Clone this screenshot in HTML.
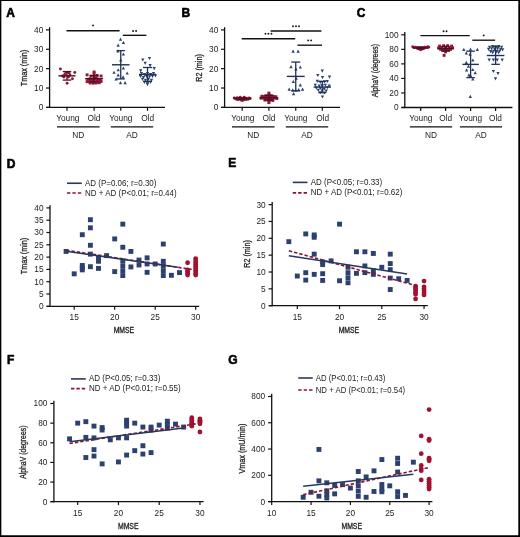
<!DOCTYPE html>
<html><head><meta charset="utf-8"><title>Figure</title>
<style>
html,body{margin:0;padding:0;background:#fff;}
body{width:520px;height:537px;overflow:hidden;}
svg{display:block;font-family:"Liberation Sans",sans-serif;fill:#1c1c1c;}
</style></head><body>
<svg width="520" height="537" viewBox="0 0 520 537">
<rect x="0" y="0" width="520" height="537" fill="#fff"/>
<g>
<line x1="49.6" y1="27.2" x2="49.6" y2="108" stroke="#111" stroke-width="1.3" />
<line x1="46" y1="107.4" x2="49.6" y2="107.4" stroke="#111" stroke-width="1.2" />
<line x1="46" y1="88.03" x2="49.6" y2="88.03" stroke="#111" stroke-width="1.2" />
<line x1="46" y1="68.65" x2="49.6" y2="68.65" stroke="#111" stroke-width="1.2" />
<line x1="46" y1="49.28" x2="49.6" y2="49.28" stroke="#111" stroke-width="1.2" />
<line x1="46" y1="29.9" x2="49.6" y2="29.9" stroke="#111" stroke-width="1.2" />
<line x1="46.3" y1="107.4" x2="165" y2="107.4" stroke="#111" stroke-width="1.3" />
<line x1="67" y1="107.4" x2="67" y2="110.8" stroke="#111" stroke-width="1.2" />
<line x1="94.1" y1="107.4" x2="94.1" y2="110.8" stroke="#111" stroke-width="1.2" />
<line x1="120.75" y1="107.4" x2="120.75" y2="110.8" stroke="#111" stroke-width="1.2" />
<line x1="147.5" y1="107.4" x2="147.5" y2="110.8" stroke="#111" stroke-width="1.2" />
<line x1="57" y1="126.9" x2="99.6" y2="126.9" stroke="#111" stroke-width="1.2" />
<line x1="110.8" y1="126.9" x2="153.2" y2="126.9" stroke="#111" stroke-width="1.2" />
<circle cx="60.4" cy="69.04" r="1.45" fill="#931634"/>
<circle cx="64.7" cy="74.46" r="1.45" fill="#931634"/>
<circle cx="67.1" cy="83.18" r="1.45" fill="#931634"/>
<circle cx="74.8" cy="72.53" r="1.45" fill="#931634"/>
<circle cx="72.4" cy="78.73" r="1.45" fill="#931634"/>
<circle cx="66" cy="72.53" r="1.45" fill="#931634"/>
<circle cx="69" cy="72.91" r="1.45" fill="#931634"/>
<circle cx="64" cy="76.98" r="1.45" fill="#931634"/>
<circle cx="68.5" cy="76.98" r="1.45" fill="#931634"/>
<circle cx="70" cy="75.04" r="1.45" fill="#931634"/>
<circle cx="62.5" cy="76.01" r="1.45" fill="#931634"/>
<line x1="58.5" y1="75.82" x2="75.5" y2="75.82" stroke="#4a1024" stroke-width="1.4" />
<line x1="67" y1="71.56" x2="67" y2="80.08" stroke="#4a1024" stroke-width="1.3" />
<line x1="62.75" y1="71.56" x2="71.25" y2="71.56" stroke="#4a1024" stroke-width="1.3" />
<line x1="62.75" y1="80.08" x2="71.25" y2="80.08" stroke="#4a1024" stroke-width="1.3" />
<rect x="92.65" y="70.49" width="2.9" height="2.9" fill="#931634"/>
<rect x="92.65" y="72.24" width="2.9" height="2.9" fill="#931634"/>
<rect x="85.65" y="73.4" width="2.9" height="2.9" fill="#931634"/>
<rect x="89.65" y="74.56" width="2.9" height="2.9" fill="#931634"/>
<rect x="95.65" y="73.98" width="2.9" height="2.9" fill="#931634"/>
<rect x="99.65" y="74.56" width="2.9" height="2.9" fill="#931634"/>
<rect x="86.65" y="77.86" width="2.9" height="2.9" fill="#931634"/>
<rect x="88.65" y="77.28" width="2.9" height="2.9" fill="#931634"/>
<rect x="90.65" y="78.83" width="2.9" height="2.9" fill="#931634"/>
<rect x="92.65" y="77.66" width="2.9" height="2.9" fill="#931634"/>
<rect x="94.65" y="76.89" width="2.9" height="2.9" fill="#931634"/>
<rect x="96.65" y="77.66" width="2.9" height="2.9" fill="#931634"/>
<rect x="98.65" y="78.24" width="2.9" height="2.9" fill="#931634"/>
<rect x="85.65" y="80.18" width="2.9" height="2.9" fill="#931634"/>
<rect x="87.65" y="80.18" width="2.9" height="2.9" fill="#931634"/>
<rect x="89.65" y="79.99" width="2.9" height="2.9" fill="#931634"/>
<rect x="91.65" y="80.57" width="2.9" height="2.9" fill="#931634"/>
<rect x="93.65" y="80.38" width="2.9" height="2.9" fill="#931634"/>
<rect x="95.65" y="79.79" width="2.9" height="2.9" fill="#931634"/>
<rect x="97.65" y="80.38" width="2.9" height="2.9" fill="#931634"/>
<rect x="99.65" y="79.99" width="2.9" height="2.9" fill="#931634"/>
<rect x="88.65" y="81.54" width="2.9" height="2.9" fill="#931634"/>
<rect x="91.65" y="81.73" width="2.9" height="2.9" fill="#931634"/>
<rect x="94.65" y="81.54" width="2.9" height="2.9" fill="#931634"/>
<rect x="97.65" y="81.34" width="2.9" height="2.9" fill="#931634"/>
<rect x="92.65" y="75.92" width="2.9" height="2.9" fill="#931634"/>
<line x1="85.1" y1="78.73" x2="103.1" y2="78.73" stroke="#4a1024" stroke-width="1.4" />
<line x1="94.1" y1="75.62" x2="94.1" y2="81.83" stroke="#4a1024" stroke-width="1.3" />
<line x1="89.6" y1="75.62" x2="98.6" y2="75.62" stroke="#4a1024" stroke-width="1.3" />
<line x1="89.6" y1="81.83" x2="98.6" y2="81.83" stroke="#4a1024" stroke-width="1.3" />
<polygon points="120.5,37.52 118.85,40.69 122.15,40.69" fill="#2c416f"/>
<polygon points="123.4,40.81 121.75,43.98 125.05,43.98" fill="#2c416f"/>
<polygon points="118.2,43.52 116.55,46.69 119.85,46.69" fill="#2c416f"/>
<polygon points="117.9,49.33 116.25,52.5 119.55,52.5" fill="#2c416f"/>
<polygon points="123.4,52.43 121.75,55.6 125.05,55.6" fill="#2c416f"/>
<polygon points="120.75,58.25 119.1,61.42 122.4,61.42" fill="#2c416f"/>
<polygon points="123.4,66.38 121.75,69.55 125.05,69.55" fill="#2c416f"/>
<polygon points="118.2,68.13 116.55,71.3 119.85,71.3" fill="#2c416f"/>
<polygon points="114,70.65 112.35,73.82 115.65,73.82" fill="#2c416f"/>
<polygon points="127.2,71.42 125.55,74.59 128.85,74.59" fill="#2c416f"/>
<polygon points="118.2,73.36 116.55,76.53 119.85,76.53" fill="#2c416f"/>
<polygon points="116.1,77.43 114.45,80.6 117.75,80.6" fill="#2c416f"/>
<polygon points="123.1,75.3 121.45,78.47 124.75,78.47" fill="#2c416f"/>
<polygon points="120.5,81.11 118.85,84.28 122.15,84.28" fill="#2c416f"/>
<polygon points="125.1,81.11 123.45,84.28 126.75,84.28" fill="#2c416f"/>
<line x1="111.95" y1="64.78" x2="129.55" y2="64.78" stroke="#1f3158" stroke-width="1.4" />
<line x1="120.75" y1="50.63" x2="120.75" y2="78.92" stroke="#1f3158" stroke-width="1.3" />
<line x1="116.65" y1="50.63" x2="124.85" y2="50.63" stroke="#1f3158" stroke-width="1.3" />
<line x1="116.65" y1="78.92" x2="124.85" y2="78.92" stroke="#1f3158" stroke-width="1.3" />
<polygon points="142.8,61.62 141.15,58.45 144.45,58.45" fill="#2c416f"/>
<polygon points="149.5,60.07 147.85,56.9 151.15,56.9" fill="#2c416f"/>
<polygon points="145.2,64.91 143.55,61.74 146.85,61.74" fill="#2c416f"/>
<polygon points="150.1,67.24 148.45,64.07 151.75,64.07" fill="#2c416f"/>
<polygon points="154.2,70.14 152.55,66.97 155.85,66.97" fill="#2c416f"/>
<polygon points="140.7,72.47 139.05,69.3 142.35,69.3" fill="#2c416f"/>
<polygon points="141.5,75.18 139.85,72.01 143.15,72.01" fill="#2c416f"/>
<polygon points="144.5,76.15 142.85,72.98 146.15,72.98" fill="#2c416f"/>
<polygon points="147.5,75.18 145.85,72.01 149.15,72.01" fill="#2c416f"/>
<polygon points="150.5,76.15 148.85,72.98 152.15,72.98" fill="#2c416f"/>
<polygon points="153.5,75.18 151.85,72.01 155.15,72.01" fill="#2c416f"/>
<polygon points="140.5,78.09 138.85,74.92 142.15,74.92" fill="#2c416f"/>
<polygon points="143.5,79.05 141.85,75.88 145.15,75.88" fill="#2c416f"/>
<polygon points="146.5,78.09 144.85,74.92 148.15,74.92" fill="#2c416f"/>
<polygon points="149.5,78.47 147.85,75.3 151.15,75.3" fill="#2c416f"/>
<polygon points="152.5,78.09 150.85,74.92 154.15,74.92" fill="#2c416f"/>
<polygon points="155.5,77.5 153.85,74.33 157.15,74.33" fill="#2c416f"/>
<polygon points="142.5,80.99 140.85,77.82 144.15,77.82" fill="#2c416f"/>
<polygon points="145.5,81.96 143.85,78.79 147.15,78.79" fill="#2c416f"/>
<polygon points="148.5,80.99 146.85,77.82 150.15,77.82" fill="#2c416f"/>
<polygon points="151.5,81.96 149.85,78.79 153.15,78.79" fill="#2c416f"/>
<polygon points="144.5,83.9 142.85,80.73 146.15,80.73" fill="#2c416f"/>
<polygon points="147.5,84.87 145.85,81.7 149.15,81.7" fill="#2c416f"/>
<polygon points="150.5,83.9 148.85,80.73 152.15,80.73" fill="#2c416f"/>
<polygon points="147.5,86.22 145.85,83.05 149.15,83.05" fill="#2c416f"/>
<line x1="139" y1="74.46" x2="156" y2="74.46" stroke="#1f3158" stroke-width="1.4" />
<line x1="147.5" y1="67.49" x2="147.5" y2="81.44" stroke="#1f3158" stroke-width="1.3" />
<line x1="143" y1="67.49" x2="152" y2="67.49" stroke="#1f3158" stroke-width="1.3" />
<line x1="143" y1="81.44" x2="152" y2="81.44" stroke="#1f3158" stroke-width="1.3" />
<line x1="66.5" y1="30.7" x2="119.6" y2="30.7" stroke="#111" stroke-width="1.35" />
<circle cx="93.05" cy="25.4" r="0.95" fill="#151515"/>
<line x1="122.8" y1="35.3" x2="146.4" y2="35.3" stroke="#111" stroke-width="1.35" />
<circle cx="133.1" cy="31" r="0.95" fill="#151515"/>
<circle cx="136.1" cy="31" r="0.95" fill="#151515"/>
<line x1="224.6" y1="27.2" x2="224.6" y2="108" stroke="#111" stroke-width="1.3" />
<line x1="221" y1="107.4" x2="224.6" y2="107.4" stroke="#111" stroke-width="1.2" />
<line x1="221" y1="88.03" x2="224.6" y2="88.03" stroke="#111" stroke-width="1.2" />
<line x1="221" y1="68.65" x2="224.6" y2="68.65" stroke="#111" stroke-width="1.2" />
<line x1="221" y1="49.28" x2="224.6" y2="49.28" stroke="#111" stroke-width="1.2" />
<line x1="221" y1="29.9" x2="224.6" y2="29.9" stroke="#111" stroke-width="1.2" />
<line x1="221.3" y1="107.4" x2="340" y2="107.4" stroke="#111" stroke-width="1.3" />
<line x1="242.2" y1="107.4" x2="242.2" y2="110.8" stroke="#111" stroke-width="1.2" />
<line x1="268.9" y1="107.4" x2="268.9" y2="110.8" stroke="#111" stroke-width="1.2" />
<line x1="295.75" y1="107.4" x2="295.75" y2="110.8" stroke="#111" stroke-width="1.2" />
<line x1="322.3" y1="107.4" x2="322.3" y2="110.8" stroke="#111" stroke-width="1.2" />
<line x1="232" y1="126.9" x2="274.6" y2="126.9" stroke="#111" stroke-width="1.2" />
<line x1="285.8" y1="126.9" x2="328.2" y2="126.9" stroke="#111" stroke-width="1.2" />
<circle cx="234.2" cy="97.91" r="1.45" fill="#931634"/>
<circle cx="235.7" cy="98.49" r="1.45" fill="#931634"/>
<circle cx="237.2" cy="97.71" r="1.45" fill="#931634"/>
<circle cx="238.7" cy="98.68" r="1.45" fill="#931634"/>
<circle cx="240.2" cy="97.91" r="1.45" fill="#931634"/>
<circle cx="241.7" cy="99.07" r="1.45" fill="#931634"/>
<circle cx="243.2" cy="98.29" r="1.45" fill="#931634"/>
<circle cx="244.7" cy="98.88" r="1.45" fill="#931634"/>
<circle cx="246.2" cy="98.1" r="1.45" fill="#931634"/>
<circle cx="247.7" cy="98.68" r="1.45" fill="#931634"/>
<circle cx="249.2" cy="97.91" r="1.45" fill="#931634"/>
<circle cx="250.2" cy="98.49" r="1.45" fill="#931634"/>
<circle cx="238.2" cy="99.65" r="1.45" fill="#931634"/>
<circle cx="240.7" cy="100.04" r="1.45" fill="#931634"/>
<circle cx="242.2" cy="100.43" r="1.45" fill="#931634"/>
<circle cx="243.7" cy="100.04" r="1.45" fill="#931634"/>
<circle cx="246.2" cy="99.65" r="1.45" fill="#931634"/>
<circle cx="240.2" cy="97.13" r="1.45" fill="#931634"/>
<circle cx="244.2" cy="97.13" r="1.45" fill="#931634"/>
<circle cx="236.2" cy="99.26" r="1.45" fill="#931634"/>
<circle cx="248.2" cy="99.26" r="1.45" fill="#931634"/>
<line x1="233.7" y1="98.49" x2="250.7" y2="98.49" stroke="#4a1024" stroke-width="1.4" />
<line x1="242.2" y1="97.91" x2="242.2" y2="99.07" stroke="#4a1024" stroke-width="1.3" />
<line x1="237.95" y1="97.91" x2="246.45" y2="97.91" stroke="#4a1024" stroke-width="1.3" />
<line x1="237.95" y1="99.07" x2="246.45" y2="99.07" stroke="#4a1024" stroke-width="1.3" />
<rect x="267.45" y="91.61" width="2.9" height="2.9" fill="#931634"/>
<rect x="267.45" y="93.16" width="2.9" height="2.9" fill="#931634"/>
<rect x="260.45" y="94.71" width="2.9" height="2.9" fill="#931634"/>
<rect x="262.45" y="95.1" width="2.9" height="2.9" fill="#931634"/>
<rect x="264.45" y="94.33" width="2.9" height="2.9" fill="#931634"/>
<rect x="266.45" y="94.91" width="2.9" height="2.9" fill="#931634"/>
<rect x="268.45" y="94.33" width="2.9" height="2.9" fill="#931634"/>
<rect x="270.45" y="94.52" width="2.9" height="2.9" fill="#931634"/>
<rect x="272.45" y="95.1" width="2.9" height="2.9" fill="#931634"/>
<rect x="274.45" y="95.29" width="2.9" height="2.9" fill="#931634"/>
<rect x="259.45" y="96.65" width="2.9" height="2.9" fill="#931634"/>
<rect x="261.45" y="96.65" width="2.9" height="2.9" fill="#931634"/>
<rect x="263.45" y="96.26" width="2.9" height="2.9" fill="#931634"/>
<rect x="265.45" y="96.26" width="2.9" height="2.9" fill="#931634"/>
<rect x="267.45" y="96.46" width="2.9" height="2.9" fill="#931634"/>
<rect x="269.45" y="97.04" width="2.9" height="2.9" fill="#931634"/>
<rect x="271.45" y="96.65" width="2.9" height="2.9" fill="#931634"/>
<rect x="273.45" y="96.46" width="2.9" height="2.9" fill="#931634"/>
<rect x="275.45" y="97.04" width="2.9" height="2.9" fill="#931634"/>
<rect x="263.45" y="98.59" width="2.9" height="2.9" fill="#931634"/>
<rect x="265.45" y="98.2" width="2.9" height="2.9" fill="#931634"/>
<rect x="267.45" y="98.2" width="2.9" height="2.9" fill="#931634"/>
<rect x="269.45" y="98.39" width="2.9" height="2.9" fill="#931634"/>
<rect x="271.45" y="98.98" width="2.9" height="2.9" fill="#931634"/>
<rect x="267.45" y="99.75" width="2.9" height="2.9" fill="#931634"/>
<rect x="267.45" y="101.11" width="2.9" height="2.9" fill="#931634"/>
<line x1="259.9" y1="97.71" x2="277.9" y2="97.71" stroke="#4a1024" stroke-width="1.4" />
<line x1="268.9" y1="95.39" x2="268.9" y2="100.04" stroke="#4a1024" stroke-width="1.3" />
<line x1="264.4" y1="95.39" x2="273.4" y2="95.39" stroke="#4a1024" stroke-width="1.3" />
<line x1="264.4" y1="100.04" x2="273.4" y2="100.04" stroke="#4a1024" stroke-width="1.3" />
<polygon points="293.1,49.53 291.45,52.7 294.75,52.7" fill="#2c416f"/>
<polygon points="298.1,49.53 296.45,52.7 299.75,52.7" fill="#2c416f"/>
<polygon points="291,65.03 289.35,68.2 292.65,68.2" fill="#2c416f"/>
<polygon points="300.3,65.41 298.65,68.58 301.95,68.58" fill="#2c416f"/>
<polygon points="295.9,67.35 294.25,70.52 297.55,70.52" fill="#2c416f"/>
<polygon points="296.2,76.65 294.55,79.82 297.85,79.82" fill="#2c416f"/>
<polygon points="293.3,79.95 291.65,83.12 294.95,83.12" fill="#2c416f"/>
<polygon points="300.3,83.24 298.65,86.41 301.95,86.41" fill="#2c416f"/>
<polygon points="302.6,87.5 300.95,90.67 304.25,90.67" fill="#2c416f"/>
<polygon points="289.2,87.5 287.55,90.67 290.85,90.67" fill="#2c416f"/>
<polygon points="292.75,88.28 291.1,91.45 294.4,91.45" fill="#2c416f"/>
<polygon points="295.75,88.67 294.1,91.84 297.4,91.84" fill="#2c416f"/>
<polygon points="298.75,88.08 297.1,91.25 300.4,91.25" fill="#2c416f"/>
<polygon points="293.6,91.96 291.95,95.13 295.25,95.13" fill="#2c416f"/>
<line x1="286.8" y1="76.4" x2="304.7" y2="76.4" stroke="#1f3158" stroke-width="1.4" />
<line x1="295.75" y1="62.06" x2="295.75" y2="90.74" stroke="#1f3158" stroke-width="1.3" />
<line x1="291.3" y1="62.06" x2="300.2" y2="62.06" stroke="#1f3158" stroke-width="1.3" />
<line x1="291.3" y1="90.74" x2="300.2" y2="90.74" stroke="#1f3158" stroke-width="1.3" />
<polygon points="322.3,72.66 320.65,69.49 323.95,69.49" fill="#2c416f"/>
<polygon points="317.8,77.12 316.15,73.95 319.45,73.95" fill="#2c416f"/>
<polygon points="322.5,79.05 320.85,75.88 324.15,75.88" fill="#2c416f"/>
<polygon points="329.5,78.67 327.85,75.5 331.15,75.5" fill="#2c416f"/>
<polygon points="317.3,82.93 315.65,79.76 318.95,79.76" fill="#2c416f"/>
<polygon points="320.3,83.9 318.65,80.73 321.95,80.73" fill="#2c416f"/>
<polygon points="324.3,83.51 322.65,80.34 325.95,80.34" fill="#2c416f"/>
<polygon points="327.3,83.12 325.65,79.95 328.95,79.95" fill="#2c416f"/>
<polygon points="315.3,86.8 313.65,83.63 316.95,83.63" fill="#2c416f"/>
<polygon points="319.3,87.77 317.65,84.6 320.95,84.6" fill="#2c416f"/>
<polygon points="322.3,87.39 320.65,84.22 323.95,84.22" fill="#2c416f"/>
<polygon points="325.3,86.8 323.65,83.63 326.95,83.63" fill="#2c416f"/>
<polygon points="329.3,87.77 327.65,84.6 330.95,84.6" fill="#2c416f"/>
<polygon points="316.3,89.71 314.65,86.54 317.95,86.54" fill="#2c416f"/>
<polygon points="320.3,90.1 318.65,86.93 321.95,86.93" fill="#2c416f"/>
<polygon points="324.3,90.68 322.65,87.51 325.95,87.51" fill="#2c416f"/>
<polygon points="327.3,89.32 325.65,86.15 328.95,86.15" fill="#2c416f"/>
<polygon points="318.3,92.04 316.65,88.87 319.95,88.87" fill="#2c416f"/>
<polygon points="322.3,92.62 320.65,89.45 323.95,89.45" fill="#2c416f"/>
<polygon points="326.3,92.62 324.65,89.45 327.95,89.45" fill="#2c416f"/>
<polygon points="320.3,94.36 318.65,91.19 321.95,91.19" fill="#2c416f"/>
<polygon points="324.3,94.55 322.65,91.38 325.95,91.38" fill="#2c416f"/>
<polygon points="322.5,98.62 320.85,95.45 324.15,95.45" fill="#2c416f"/>
<line x1="313.65" y1="87.06" x2="330.95" y2="87.06" stroke="#1f3158" stroke-width="1.4" />
<line x1="322.3" y1="81.44" x2="322.3" y2="92.68" stroke="#1f3158" stroke-width="1.3" />
<line x1="318.3" y1="81.44" x2="326.3" y2="81.44" stroke="#1f3158" stroke-width="1.3" />
<line x1="318.3" y1="92.68" x2="326.3" y2="92.68" stroke="#1f3158" stroke-width="1.3" />
<line x1="241.7" y1="38.7" x2="295.2" y2="38.7" stroke="#111" stroke-width="1.35" />
<circle cx="265.45" cy="33.8" r="0.95" fill="#151515"/>
<circle cx="268.45" cy="33.8" r="0.95" fill="#151515"/>
<circle cx="271.45" cy="33.8" r="0.95" fill="#151515"/>
<line x1="270.6" y1="31" x2="321.4" y2="31" stroke="#111" stroke-width="1.35" />
<circle cx="293" cy="26.3" r="0.95" fill="#151515"/>
<circle cx="296" cy="26.3" r="0.95" fill="#151515"/>
<circle cx="299" cy="26.3" r="0.95" fill="#151515"/>
<line x1="297.4" y1="45.2" x2="322" y2="45.2" stroke="#111" stroke-width="1.35" />
<circle cx="308.2" cy="40.4" r="0.95" fill="#151515"/>
<circle cx="311.2" cy="40.4" r="0.95" fill="#151515"/>
<line x1="404.8" y1="32.1" x2="404.8" y2="108.1" stroke="#111" stroke-width="1.3" />
<line x1="401.2" y1="107.5" x2="404.8" y2="107.5" stroke="#111" stroke-width="1.2" />
<line x1="401.2" y1="92.96" x2="404.8" y2="92.96" stroke="#111" stroke-width="1.2" />
<line x1="401.2" y1="78.42" x2="404.8" y2="78.42" stroke="#111" stroke-width="1.2" />
<line x1="401.2" y1="63.88" x2="404.8" y2="63.88" stroke="#111" stroke-width="1.2" />
<line x1="401.2" y1="49.34" x2="404.8" y2="49.34" stroke="#111" stroke-width="1.2" />
<line x1="401.2" y1="34.8" x2="404.8" y2="34.8" stroke="#111" stroke-width="1.2" />
<line x1="401.5" y1="107.5" x2="512.4" y2="107.5" stroke="#111" stroke-width="1.3" />
<line x1="420.7" y1="107.5" x2="420.7" y2="110.9" stroke="#111" stroke-width="1.2" />
<line x1="445.6" y1="107.5" x2="445.6" y2="110.9" stroke="#111" stroke-width="1.2" />
<line x1="470.6" y1="107.5" x2="470.6" y2="110.9" stroke="#111" stroke-width="1.2" />
<line x1="495.6" y1="107.5" x2="495.6" y2="110.9" stroke="#111" stroke-width="1.2" />
<line x1="409.9" y1="126.9" x2="452.1" y2="126.9" stroke="#111" stroke-width="1.2" />
<line x1="459.9" y1="126.9" x2="502.1" y2="126.9" stroke="#111" stroke-width="1.2" />
<circle cx="412.7" cy="46.8" r="1.45" fill="#931634"/>
<circle cx="414.2" cy="47.52" r="1.45" fill="#931634"/>
<circle cx="415.7" cy="47.16" r="1.45" fill="#931634"/>
<circle cx="417.2" cy="47.89" r="1.45" fill="#931634"/>
<circle cx="418.7" cy="47.52" r="1.45" fill="#931634"/>
<circle cx="420.2" cy="47.89" r="1.45" fill="#931634"/>
<circle cx="421.7" cy="47.52" r="1.45" fill="#931634"/>
<circle cx="423.2" cy="47.89" r="1.45" fill="#931634"/>
<circle cx="424.7" cy="47.16" r="1.45" fill="#931634"/>
<circle cx="426.2" cy="47.52" r="1.45" fill="#931634"/>
<circle cx="427.7" cy="46.8" r="1.45" fill="#931634"/>
<circle cx="428.7" cy="47.16" r="1.45" fill="#931634"/>
<circle cx="417.7" cy="48.61" r="1.45" fill="#931634"/>
<circle cx="419.2" cy="48.98" r="1.45" fill="#931634"/>
<circle cx="420.7" cy="49.34" r="1.45" fill="#931634"/>
<circle cx="422.2" cy="48.98" r="1.45" fill="#931634"/>
<circle cx="423.7" cy="48.61" r="1.45" fill="#931634"/>
<circle cx="420.7" cy="49.85" r="1.45" fill="#931634"/>
<line x1="412.7" y1="48.03" x2="428.7" y2="48.03" stroke="#4a1024" stroke-width="1.4" />
<line x1="420.7" y1="47.3" x2="420.7" y2="48.76" stroke="#4a1024" stroke-width="1.3" />
<line x1="416.7" y1="47.3" x2="424.7" y2="47.3" stroke="#4a1024" stroke-width="1.3" />
<line x1="416.7" y1="48.76" x2="424.7" y2="48.76" stroke="#4a1024" stroke-width="1.3" />
<rect x="438.15" y="44.62" width="2.9" height="2.9" fill="#931634"/>
<rect x="442.15" y="44.25" width="2.9" height="2.9" fill="#931634"/>
<rect x="446.15" y="44.25" width="2.9" height="2.9" fill="#931634"/>
<rect x="450.15" y="44.62" width="2.9" height="2.9" fill="#931634"/>
<rect x="437.15" y="46.44" width="2.9" height="2.9" fill="#931634"/>
<rect x="440.15" y="46.07" width="2.9" height="2.9" fill="#931634"/>
<rect x="444.15" y="45.71" width="2.9" height="2.9" fill="#931634"/>
<rect x="448.15" y="46.07" width="2.9" height="2.9" fill="#931634"/>
<rect x="451.15" y="46.44" width="2.9" height="2.9" fill="#931634"/>
<rect x="439.15" y="47.89" width="2.9" height="2.9" fill="#931634"/>
<rect x="442.15" y="47.53" width="2.9" height="2.9" fill="#931634"/>
<rect x="446.15" y="47.53" width="2.9" height="2.9" fill="#931634"/>
<rect x="449.15" y="47.89" width="2.9" height="2.9" fill="#931634"/>
<rect x="441.15" y="48.98" width="2.9" height="2.9" fill="#931634"/>
<rect x="444.15" y="49.34" width="2.9" height="2.9" fill="#931634"/>
<rect x="447.15" y="48.98" width="2.9" height="2.9" fill="#931634"/>
<rect x="444.15" y="50.43" width="2.9" height="2.9" fill="#931634"/>
<rect x="442.65" y="53.92" width="2.9" height="2.9" fill="#931634"/>
<line x1="437.6" y1="48.61" x2="453.6" y2="48.61" stroke="#4a1024" stroke-width="1.4" />
<line x1="445.6" y1="46.43" x2="445.6" y2="50.79" stroke="#4a1024" stroke-width="1.3" />
<line x1="441.6" y1="46.43" x2="449.6" y2="46.43" stroke="#4a1024" stroke-width="1.3" />
<line x1="441.6" y1="50.79" x2="449.6" y2="50.79" stroke="#4a1024" stroke-width="1.3" />
<polygon points="463.8,47.8 462.15,50.97 465.45,50.97" fill="#2c416f"/>
<polygon points="470.5,47.51 468.85,50.68 472.15,50.68" fill="#2c416f"/>
<polygon points="477.3,47.8 475.65,50.97 478.95,50.97" fill="#2c416f"/>
<polygon points="466.3,51.22 464.65,54.39 467.95,54.39" fill="#2c416f"/>
<polygon points="470,52.6 468.35,55.77 471.65,55.77" fill="#2c416f"/>
<polygon points="472.8,58.41 471.15,61.58 474.45,61.58" fill="#2c416f"/>
<polygon points="466.3,60.74 464.65,63.91 467.95,63.91" fill="#2c416f"/>
<polygon points="468.5,64.59 466.85,67.76 470.15,67.76" fill="#2c416f"/>
<polygon points="466.6,68.3 464.95,71.47 468.25,71.47" fill="#2c416f"/>
<polygon points="472.8,67.94 471.15,71.11 474.45,71.11" fill="#2c416f"/>
<polygon points="475.2,70.99 473.55,74.16 476.85,74.16" fill="#2c416f"/>
<polygon points="468.9,73.25 467.25,76.42 470.55,76.42" fill="#2c416f"/>
<polygon points="470.5,73.9 468.85,77.07 472.15,77.07" fill="#2c416f"/>
<polygon points="472.8,77.39 471.15,80.56 474.45,80.56" fill="#2c416f"/>
<polygon points="470.3,94.84 468.65,98.01 471.95,98.01" fill="#2c416f"/>
<line x1="462.4" y1="64.39" x2="478.8" y2="64.39" stroke="#1f3158" stroke-width="1.4" />
<line x1="470.6" y1="51.16" x2="470.6" y2="77.62" stroke="#1f3158" stroke-width="1.3" />
<line x1="466.35" y1="51.16" x2="474.85" y2="51.16" stroke="#1f3158" stroke-width="1.3" />
<line x1="466.35" y1="77.62" x2="474.85" y2="77.62" stroke="#1f3158" stroke-width="1.3" />
<polygon points="489.6,48.84 487.95,45.67 491.25,45.67" fill="#2c416f"/>
<polygon points="492.6,48.12 490.95,44.95 494.25,44.95" fill="#2c416f"/>
<polygon points="495.6,48.48 493.95,45.31 497.25,45.31" fill="#2c416f"/>
<polygon points="498.6,48.12 496.95,44.95 500.25,44.95" fill="#2c416f"/>
<polygon points="501.6,48.84 499.95,45.67 503.25,45.67" fill="#2c416f"/>
<polygon points="488.6,51.03 486.95,47.86 490.25,47.86" fill="#2c416f"/>
<polygon points="491.6,50.3 489.95,47.13 493.25,47.13" fill="#2c416f"/>
<polygon points="494.6,50.66 492.95,47.49 496.25,47.49" fill="#2c416f"/>
<polygon points="497.6,50.3 495.95,47.13 499.25,47.13" fill="#2c416f"/>
<polygon points="500.6,51.03 498.95,47.86 502.25,47.86" fill="#2c416f"/>
<polygon points="502.6,51.39 500.95,48.22 504.25,48.22" fill="#2c416f"/>
<polygon points="490.6,53.21 488.95,50.04 492.25,50.04" fill="#2c416f"/>
<polygon points="493.6,52.84 491.95,49.67 495.25,49.67" fill="#2c416f"/>
<polygon points="496.6,53.21 494.95,50.04 498.25,50.04" fill="#2c416f"/>
<polygon points="499.6,52.84 497.95,49.67 501.25,49.67" fill="#2c416f"/>
<polygon points="492.6,54.3 490.95,51.13 494.25,51.13" fill="#2c416f"/>
<polygon points="498.6,54.3 496.95,51.13 500.25,51.13" fill="#2c416f"/>
<polygon points="489.2,61.78 487.55,58.61 490.85,58.61" fill="#2c416f"/>
<polygon points="493.4,61.78 491.75,58.61 495.05,58.61" fill="#2c416f"/>
<polygon points="497.2,61.78 495.55,58.61 498.85,58.61" fill="#2c416f"/>
<polygon points="502.2,61.78 500.55,58.61 503.85,58.61" fill="#2c416f"/>
<polygon points="493.4,73.05 491.75,69.88 495.05,69.88" fill="#2c416f"/>
<polygon points="498,75.16 496.35,71.99 499.65,71.99" fill="#2c416f"/>
<polygon points="495.5,80.4 493.85,77.23 497.15,77.23" fill="#2c416f"/>
<line x1="486.8" y1="55.52" x2="504.4" y2="55.52" stroke="#1f3158" stroke-width="1.4" />
<line x1="495.6" y1="46.72" x2="495.6" y2="64.32" stroke="#1f3158" stroke-width="1.3" />
<line x1="491.4" y1="46.72" x2="499.8" y2="46.72" stroke="#1f3158" stroke-width="1.3" />
<line x1="491.4" y1="64.32" x2="499.8" y2="64.32" stroke="#1f3158" stroke-width="1.3" />
<line x1="420.4" y1="35.6" x2="469.7" y2="35.6" stroke="#111" stroke-width="1.35" />
<circle cx="443.55" cy="31.2" r="0.95" fill="#151515"/>
<circle cx="446.55" cy="31.2" r="0.95" fill="#151515"/>
<line x1="472.3" y1="40.2" x2="495.1" y2="40.2" stroke="#111" stroke-width="1.35" />
<circle cx="483.7" cy="35.4" r="0.95" fill="#151515"/>
<line x1="50" y1="205.2" x2="50" y2="306.9" stroke="#111" stroke-width="1.3" />
<line x1="46.4" y1="306.3" x2="50" y2="306.3" stroke="#111" stroke-width="1.2" />
<line x1="46.4" y1="294" x2="50" y2="294" stroke="#111" stroke-width="1.2" />
<line x1="46.4" y1="281.7" x2="50" y2="281.7" stroke="#111" stroke-width="1.2" />
<line x1="46.4" y1="269.4" x2="50" y2="269.4" stroke="#111" stroke-width="1.2" />
<line x1="46.4" y1="257.1" x2="50" y2="257.1" stroke="#111" stroke-width="1.2" />
<line x1="46.4" y1="244.8" x2="50" y2="244.8" stroke="#111" stroke-width="1.2" />
<line x1="46.4" y1="232.5" x2="50" y2="232.5" stroke="#111" stroke-width="1.2" />
<line x1="46.4" y1="220.2" x2="50" y2="220.2" stroke="#111" stroke-width="1.2" />
<line x1="46.4" y1="207.9" x2="50" y2="207.9" stroke="#111" stroke-width="1.2" />
<line x1="46.7" y1="306.3" x2="199.2" y2="306.3" stroke="#111" stroke-width="1.3" />
<line x1="74.2" y1="306.3" x2="74.2" y2="309.7" stroke="#111" stroke-width="1.2" />
<line x1="114.7" y1="306.3" x2="114.7" y2="309.7" stroke="#111" stroke-width="1.2" />
<line x1="155.2" y1="306.3" x2="155.2" y2="309.7" stroke="#111" stroke-width="1.2" />
<line x1="195.7" y1="306.3" x2="195.7" y2="309.7" stroke="#111" stroke-width="1.2" />
<rect x="63.65" y="248.99" width="4.9" height="4.9" fill="#2c416f"/>
<rect x="71.75" y="271.38" width="4.9" height="4.9" fill="#2c416f"/>
<rect x="79.85" y="232.26" width="4.9" height="4.9" fill="#2c416f"/>
<rect x="79.85" y="263.01" width="4.9" height="4.9" fill="#2c416f"/>
<rect x="79.85" y="265.23" width="4.9" height="4.9" fill="#2c416f"/>
<rect x="79.85" y="267.44" width="4.9" height="4.9" fill="#2c416f"/>
<rect x="87.95" y="217.26" width="4.9" height="4.9" fill="#2c416f"/>
<rect x="87.95" y="225.38" width="4.9" height="4.9" fill="#2c416f"/>
<rect x="87.95" y="242.84" width="4.9" height="4.9" fill="#2c416f"/>
<rect x="87.95" y="251.7" width="4.9" height="4.9" fill="#2c416f"/>
<rect x="87.95" y="264.24" width="4.9" height="4.9" fill="#2c416f"/>
<rect x="96.05" y="255.39" width="4.9" height="4.9" fill="#2c416f"/>
<rect x="96.05" y="258.83" width="4.9" height="4.9" fill="#2c416f"/>
<rect x="96.05" y="265.97" width="4.9" height="4.9" fill="#2c416f"/>
<rect x="104.15" y="253.17" width="4.9" height="4.9" fill="#2c416f"/>
<rect x="112.25" y="236.45" width="4.9" height="4.9" fill="#2c416f"/>
<rect x="112.25" y="269.16" width="4.9" height="4.9" fill="#2c416f"/>
<rect x="120.35" y="221.69" width="4.9" height="4.9" fill="#2c416f"/>
<rect x="120.35" y="244.81" width="4.9" height="4.9" fill="#2c416f"/>
<rect x="120.35" y="258.34" width="4.9" height="4.9" fill="#2c416f"/>
<rect x="120.35" y="263.26" width="4.9" height="4.9" fill="#2c416f"/>
<rect x="120.35" y="268.18" width="4.9" height="4.9" fill="#2c416f"/>
<rect x="120.35" y="273.1" width="4.9" height="4.9" fill="#2c416f"/>
<rect x="128.45" y="248.99" width="4.9" height="4.9" fill="#2c416f"/>
<rect x="128.45" y="264.49" width="4.9" height="4.9" fill="#2c416f"/>
<rect x="136.55" y="257.6" width="4.9" height="4.9" fill="#2c416f"/>
<rect x="136.55" y="262.52" width="4.9" height="4.9" fill="#2c416f"/>
<rect x="144.65" y="255.39" width="4.9" height="4.9" fill="#2c416f"/>
<rect x="144.65" y="261.54" width="4.9" height="4.9" fill="#2c416f"/>
<rect x="144.65" y="269.9" width="4.9" height="4.9" fill="#2c416f"/>
<rect x="152.75" y="261.54" width="4.9" height="4.9" fill="#2c416f"/>
<rect x="160.85" y="241.61" width="4.9" height="4.9" fill="#2c416f"/>
<rect x="160.85" y="258.83" width="4.9" height="4.9" fill="#2c416f"/>
<rect x="160.85" y="263.26" width="4.9" height="4.9" fill="#2c416f"/>
<rect x="160.85" y="268.18" width="4.9" height="4.9" fill="#2c416f"/>
<rect x="160.85" y="273.1" width="4.9" height="4.9" fill="#2c416f"/>
<rect x="168.95" y="272.85" width="4.9" height="4.9" fill="#2c416f"/>
<rect x="177.05" y="270.15" width="4.9" height="4.9" fill="#2c416f"/>
<circle cx="187.6" cy="262.76" r="2.4" fill="#a3112f"/>
<circle cx="187.6" cy="269.89" r="2.4" fill="#a3112f"/>
<circle cx="187.6" cy="271.61" r="2.4" fill="#a3112f"/>
<circle cx="187.6" cy="273.34" r="2.4" fill="#a3112f"/>
<circle cx="187.6" cy="275.06" r="2.4" fill="#a3112f"/>
<circle cx="195.7" cy="258.58" r="2.4" fill="#a3112f"/>
<circle cx="195.7" cy="260.54" r="2.4" fill="#a3112f"/>
<circle cx="195.7" cy="262.51" r="2.4" fill="#a3112f"/>
<circle cx="195.7" cy="264.48" r="2.4" fill="#a3112f"/>
<circle cx="195.7" cy="266.45" r="2.4" fill="#a3112f"/>
<circle cx="195.7" cy="268.42" r="2.4" fill="#a3112f"/>
<circle cx="195.7" cy="270.38" r="2.4" fill="#a3112f"/>
<circle cx="195.7" cy="272.11" r="2.4" fill="#a3112f"/>
<circle cx="195.7" cy="273.83" r="2.4" fill="#a3112f"/>
<circle cx="195.7" cy="275.06" r="2.4" fill="#a3112f"/>
<line x1="66.1" y1="250.21" x2="191.65" y2="269.4" stroke="#8a1431" stroke-width="1.6" stroke-dasharray="3.4,2.0"/>
<line x1="66.1" y1="251.2" x2="177.88" y2="267.19" stroke="#26395f" stroke-width="1.6" />
<line x1="67" y1="183.25" x2="81.75" y2="183.25" stroke="#26395f" stroke-width="1.6" />
<line x1="67" y1="193" x2="81.75" y2="193" stroke="#8a1431" stroke-width="1.6" stroke-dasharray="3.4,2.0"/>
<line x1="272.2" y1="201.9" x2="272.2" y2="306.3" stroke="#111" stroke-width="1.3" />
<line x1="268.6" y1="305.7" x2="272.2" y2="305.7" stroke="#111" stroke-width="1.2" />
<line x1="268.6" y1="288.85" x2="272.2" y2="288.85" stroke="#111" stroke-width="1.2" />
<line x1="268.6" y1="272" x2="272.2" y2="272" stroke="#111" stroke-width="1.2" />
<line x1="268.6" y1="255.15" x2="272.2" y2="255.15" stroke="#111" stroke-width="1.2" />
<line x1="268.6" y1="238.3" x2="272.2" y2="238.3" stroke="#111" stroke-width="1.2" />
<line x1="268.6" y1="221.45" x2="272.2" y2="221.45" stroke="#111" stroke-width="1.2" />
<line x1="268.6" y1="204.6" x2="272.2" y2="204.6" stroke="#111" stroke-width="1.2" />
<line x1="268.9" y1="305.7" x2="427.8" y2="305.7" stroke="#111" stroke-width="1.3" />
<line x1="297.3" y1="305.7" x2="297.3" y2="309.1" stroke="#111" stroke-width="1.2" />
<line x1="339.55" y1="305.7" x2="339.55" y2="309.1" stroke="#111" stroke-width="1.2" />
<line x1="381.8" y1="305.7" x2="381.8" y2="309.1" stroke="#111" stroke-width="1.2" />
<line x1="424.05" y1="305.7" x2="424.05" y2="309.1" stroke="#111" stroke-width="1.2" />
<rect x="286.4" y="239.22" width="4.9" height="4.9" fill="#2c416f"/>
<rect x="294.85" y="273.59" width="4.9" height="4.9" fill="#2c416f"/>
<rect x="303.3" y="231.47" width="4.9" height="4.9" fill="#2c416f"/>
<rect x="303.3" y="270.22" width="4.9" height="4.9" fill="#2c416f"/>
<rect x="303.3" y="277.64" width="4.9" height="4.9" fill="#2c416f"/>
<rect x="311.75" y="232.48" width="4.9" height="4.9" fill="#2c416f"/>
<rect x="311.75" y="234.84" width="4.9" height="4.9" fill="#2c416f"/>
<rect x="311.75" y="251.69" width="4.9" height="4.9" fill="#2c416f"/>
<rect x="311.75" y="271.91" width="4.9" height="4.9" fill="#2c416f"/>
<rect x="320.2" y="259.44" width="4.9" height="4.9" fill="#2c416f"/>
<rect x="320.2" y="262.14" width="4.9" height="4.9" fill="#2c416f"/>
<rect x="320.2" y="271.24" width="4.9" height="4.9" fill="#2c416f"/>
<rect x="320.2" y="277.98" width="4.9" height="4.9" fill="#2c416f"/>
<rect x="328.65" y="258.43" width="4.9" height="4.9" fill="#2c416f"/>
<rect x="337.1" y="221.7" width="4.9" height="4.9" fill="#2c416f"/>
<rect x="337.1" y="278.31" width="4.9" height="4.9" fill="#2c416f"/>
<rect x="345.55" y="264.83" width="4.9" height="4.9" fill="#2c416f"/>
<rect x="345.55" y="270.22" width="4.9" height="4.9" fill="#2c416f"/>
<rect x="345.55" y="275.28" width="4.9" height="4.9" fill="#2c416f"/>
<rect x="345.55" y="280.33" width="4.9" height="4.9" fill="#2c416f"/>
<rect x="354" y="249.33" width="4.9" height="4.9" fill="#2c416f"/>
<rect x="354" y="270.9" width="4.9" height="4.9" fill="#2c416f"/>
<rect x="362.45" y="249.33" width="4.9" height="4.9" fill="#2c416f"/>
<rect x="362.45" y="263.48" width="4.9" height="4.9" fill="#2c416f"/>
<rect x="362.45" y="270.22" width="4.9" height="4.9" fill="#2c416f"/>
<rect x="370.9" y="251.01" width="4.9" height="4.9" fill="#2c416f"/>
<rect x="370.9" y="268.2" width="4.9" height="4.9" fill="#2c416f"/>
<rect x="370.9" y="271.91" width="4.9" height="4.9" fill="#2c416f"/>
<rect x="379.35" y="264.83" width="4.9" height="4.9" fill="#2c416f"/>
<rect x="387.8" y="251.69" width="4.9" height="4.9" fill="#2c416f"/>
<rect x="387.8" y="261.12" width="4.9" height="4.9" fill="#2c416f"/>
<rect x="387.8" y="267.19" width="4.9" height="4.9" fill="#2c416f"/>
<rect x="387.8" y="275.62" width="4.9" height="4.9" fill="#2c416f"/>
<rect x="387.8" y="287.07" width="4.9" height="4.9" fill="#2c416f"/>
<rect x="396.25" y="276.29" width="4.9" height="4.9" fill="#2c416f"/>
<rect x="404.7" y="277.98" width="4.9" height="4.9" fill="#2c416f"/>
<circle cx="415.6" cy="286.15" r="2.4" fill="#a3112f"/>
<circle cx="415.6" cy="288.18" r="2.4" fill="#a3112f"/>
<circle cx="415.6" cy="290.2" r="2.4" fill="#a3112f"/>
<circle cx="415.6" cy="292.22" r="2.4" fill="#a3112f"/>
<circle cx="415.6" cy="294.24" r="2.4" fill="#a3112f"/>
<circle cx="415.6" cy="298.96" r="2.4" fill="#a3112f"/>
<circle cx="424.05" cy="281.1" r="2.4" fill="#a3112f"/>
<circle cx="424.05" cy="286.83" r="2.4" fill="#a3112f"/>
<circle cx="424.05" cy="288.85" r="2.4" fill="#a3112f"/>
<circle cx="424.05" cy="290.87" r="2.4" fill="#a3112f"/>
<circle cx="424.05" cy="292.89" r="2.4" fill="#a3112f"/>
<circle cx="424.05" cy="294.92" r="2.4" fill="#a3112f"/>
<line x1="288.85" y1="250.77" x2="415.6" y2="285.48" stroke="#8a1431" stroke-width="1.6" stroke-dasharray="3.4,2.0"/>
<line x1="288.85" y1="255.82" x2="407.15" y2="274.02" stroke="#26395f" stroke-width="1.6" />
<line x1="292.75" y1="182.4" x2="307.5" y2="182.4" stroke="#26395f" stroke-width="1.6" />
<line x1="292.75" y1="192.9" x2="307.5" y2="192.9" stroke="#8a1431" stroke-width="1.6" stroke-dasharray="3.4,2.0"/>
<line x1="53.9" y1="400.8" x2="53.9" y2="502.3" stroke="#111" stroke-width="1.3" />
<line x1="50.3" y1="501.7" x2="53.9" y2="501.7" stroke="#111" stroke-width="1.2" />
<line x1="50.3" y1="482.06" x2="53.9" y2="482.06" stroke="#111" stroke-width="1.2" />
<line x1="50.3" y1="462.42" x2="53.9" y2="462.42" stroke="#111" stroke-width="1.2" />
<line x1="50.3" y1="442.78" x2="53.9" y2="442.78" stroke="#111" stroke-width="1.2" />
<line x1="50.3" y1="423.14" x2="53.9" y2="423.14" stroke="#111" stroke-width="1.2" />
<line x1="50.3" y1="403.5" x2="53.9" y2="403.5" stroke="#111" stroke-width="1.2" />
<line x1="50.6" y1="501.7" x2="203.6" y2="501.7" stroke="#111" stroke-width="1.3" />
<line x1="77.7" y1="501.7" x2="77.7" y2="505.1" stroke="#111" stroke-width="1.2" />
<line x1="118.45" y1="501.7" x2="118.45" y2="505.1" stroke="#111" stroke-width="1.2" />
<line x1="159.2" y1="501.7" x2="159.2" y2="505.1" stroke="#111" stroke-width="1.2" />
<line x1="199.95" y1="501.7" x2="199.95" y2="505.1" stroke="#111" stroke-width="1.2" />
<rect x="67.1" y="436.4" width="4.9" height="4.9" fill="#2c416f"/>
<rect x="75.25" y="420.69" width="4.9" height="4.9" fill="#2c416f"/>
<rect x="83.4" y="419.22" width="4.9" height="4.9" fill="#2c416f"/>
<rect x="83.4" y="434.93" width="4.9" height="4.9" fill="#2c416f"/>
<rect x="83.4" y="455.06" width="4.9" height="4.9" fill="#2c416f"/>
<rect x="91.55" y="423.64" width="4.9" height="4.9" fill="#2c416f"/>
<rect x="91.55" y="435.42" width="4.9" height="4.9" fill="#2c416f"/>
<rect x="91.55" y="447.2" width="4.9" height="4.9" fill="#2c416f"/>
<rect x="91.55" y="453.59" width="4.9" height="4.9" fill="#2c416f"/>
<rect x="99.7" y="425.11" width="4.9" height="4.9" fill="#2c416f"/>
<rect x="99.7" y="427.56" width="4.9" height="4.9" fill="#2c416f"/>
<rect x="99.7" y="461.44" width="4.9" height="4.9" fill="#2c416f"/>
<rect x="107.85" y="437.38" width="4.9" height="4.9" fill="#2c416f"/>
<rect x="116" y="435.42" width="4.9" height="4.9" fill="#2c416f"/>
<rect x="116" y="459.48" width="4.9" height="4.9" fill="#2c416f"/>
<rect x="124.15" y="417.74" width="4.9" height="4.9" fill="#2c416f"/>
<rect x="124.15" y="420.69" width="4.9" height="4.9" fill="#2c416f"/>
<rect x="124.15" y="423.64" width="4.9" height="4.9" fill="#2c416f"/>
<rect x="124.15" y="435.42" width="4.9" height="4.9" fill="#2c416f"/>
<rect x="124.15" y="452.61" width="4.9" height="4.9" fill="#2c416f"/>
<rect x="132.3" y="420.69" width="4.9" height="4.9" fill="#2c416f"/>
<rect x="132.3" y="448.19" width="4.9" height="4.9" fill="#2c416f"/>
<rect x="140.45" y="424.62" width="4.9" height="4.9" fill="#2c416f"/>
<rect x="140.45" y="443.28" width="4.9" height="4.9" fill="#2c416f"/>
<rect x="140.45" y="451.62" width="4.9" height="4.9" fill="#2c416f"/>
<rect x="148.6" y="424.62" width="4.9" height="4.9" fill="#2c416f"/>
<rect x="148.6" y="427.56" width="4.9" height="4.9" fill="#2c416f"/>
<rect x="148.6" y="450.15" width="4.9" height="4.9" fill="#2c416f"/>
<rect x="156.75" y="422.65" width="4.9" height="4.9" fill="#2c416f"/>
<rect x="164.9" y="418.73" width="4.9" height="4.9" fill="#2c416f"/>
<rect x="164.9" y="422.16" width="4.9" height="4.9" fill="#2c416f"/>
<rect x="164.9" y="425.6" width="4.9" height="4.9" fill="#2c416f"/>
<rect x="173.05" y="421.67" width="4.9" height="4.9" fill="#2c416f"/>
<rect x="181.2" y="424.62" width="4.9" height="4.9" fill="#2c416f"/>
<circle cx="191.8" cy="417.64" r="2.4" fill="#a3112f"/>
<circle cx="191.8" cy="419.02" r="2.4" fill="#a3112f"/>
<circle cx="191.8" cy="420.39" r="2.4" fill="#a3112f"/>
<circle cx="191.8" cy="421.77" r="2.4" fill="#a3112f"/>
<circle cx="191.8" cy="423.14" r="2.4" fill="#a3112f"/>
<circle cx="191.8" cy="424.51" r="2.4" fill="#a3112f"/>
<circle cx="191.8" cy="426.18" r="2.4" fill="#a3112f"/>
<circle cx="199.95" cy="419.02" r="2.4" fill="#a3112f"/>
<circle cx="199.95" cy="420.19" r="2.4" fill="#a3112f"/>
<circle cx="199.95" cy="421.37" r="2.4" fill="#a3112f"/>
<circle cx="199.95" cy="422.55" r="2.4" fill="#a3112f"/>
<circle cx="199.95" cy="423.83" r="2.4" fill="#a3112f"/>
<circle cx="199.95" cy="431.98" r="2.4" fill="#a3112f"/>
<line x1="69.55" y1="443.47" x2="195.88" y2="423.83" stroke="#8a1431" stroke-width="1.6" stroke-dasharray="3.4,2.0"/>
<line x1="69.55" y1="441.8" x2="183.65" y2="428.05" stroke="#26395f" stroke-width="1.6" />
<line x1="71" y1="378.9" x2="85.75" y2="378.9" stroke="#26395f" stroke-width="1.6" />
<line x1="71" y1="388.6" x2="85.75" y2="388.6" stroke="#8a1431" stroke-width="1.6" stroke-dasharray="3.4,2.0"/>
<line x1="271.7" y1="393.78" x2="271.7" y2="502.2" stroke="#111" stroke-width="1.3" />
<line x1="268.1" y1="501.6" x2="271.7" y2="501.6" stroke="#111" stroke-width="1.2" />
<line x1="268.1" y1="475.32" x2="271.7" y2="475.32" stroke="#111" stroke-width="1.2" />
<line x1="268.1" y1="449.04" x2="271.7" y2="449.04" stroke="#111" stroke-width="1.2" />
<line x1="268.1" y1="422.76" x2="271.7" y2="422.76" stroke="#111" stroke-width="1.2" />
<line x1="268.1" y1="396.48" x2="271.7" y2="396.48" stroke="#111" stroke-width="1.2" />
<line x1="268.4" y1="501.6" x2="432.4" y2="501.6" stroke="#111" stroke-width="1.3" />
<line x1="271.7" y1="501.6" x2="271.7" y2="505" stroke="#111" stroke-width="1.2" />
<line x1="311.05" y1="501.6" x2="311.05" y2="505" stroke="#111" stroke-width="1.2" />
<line x1="350.4" y1="501.6" x2="350.4" y2="505" stroke="#111" stroke-width="1.2" />
<line x1="389.75" y1="501.6" x2="389.75" y2="505" stroke="#111" stroke-width="1.2" />
<line x1="429.1" y1="501.6" x2="429.1" y2="505" stroke="#111" stroke-width="1.2" />
<rect x="300.73" y="494.81" width="4.9" height="4.9" fill="#2c416f"/>
<rect x="308.6" y="489.82" width="4.9" height="4.9" fill="#2c416f"/>
<rect x="316.47" y="446.98" width="4.9" height="4.9" fill="#2c416f"/>
<rect x="316.47" y="478.39" width="4.9" height="4.9" fill="#2c416f"/>
<rect x="316.47" y="493.76" width="4.9" height="4.9" fill="#2c416f"/>
<rect x="324.34" y="480.36" width="4.9" height="4.9" fill="#2c416f"/>
<rect x="324.34" y="488.38" width="4.9" height="4.9" fill="#2c416f"/>
<rect x="324.34" y="491.92" width="4.9" height="4.9" fill="#2c416f"/>
<rect x="324.34" y="495.47" width="4.9" height="4.9" fill="#2c416f"/>
<rect x="332.21" y="482.99" width="4.9" height="4.9" fill="#2c416f"/>
<rect x="332.21" y="491.4" width="4.9" height="4.9" fill="#2c416f"/>
<rect x="340.08" y="482.2" width="4.9" height="4.9" fill="#2c416f"/>
<rect x="347.95" y="485.62" width="4.9" height="4.9" fill="#2c416f"/>
<rect x="355.82" y="469.06" width="4.9" height="4.9" fill="#2c416f"/>
<rect x="355.82" y="478.39" width="4.9" height="4.9" fill="#2c416f"/>
<rect x="355.82" y="483.38" width="4.9" height="4.9" fill="#2c416f"/>
<rect x="355.82" y="488.64" width="4.9" height="4.9" fill="#2c416f"/>
<rect x="355.82" y="493.89" width="4.9" height="4.9" fill="#2c416f"/>
<rect x="363.69" y="474.45" width="4.9" height="4.9" fill="#2c416f"/>
<rect x="363.69" y="494.81" width="4.9" height="4.9" fill="#2c416f"/>
<rect x="371.56" y="468.4" width="4.9" height="4.9" fill="#2c416f"/>
<rect x="371.56" y="489.03" width="4.9" height="4.9" fill="#2c416f"/>
<rect x="379.43" y="457.1" width="4.9" height="4.9" fill="#2c416f"/>
<rect x="379.43" y="482.07" width="4.9" height="4.9" fill="#2c416f"/>
<rect x="379.43" y="486.67" width="4.9" height="4.9" fill="#2c416f"/>
<rect x="379.43" y="489.3" width="4.9" height="4.9" fill="#2c416f"/>
<rect x="387.3" y="483.38" width="4.9" height="4.9" fill="#2c416f"/>
<rect x="395.17" y="455.79" width="4.9" height="4.9" fill="#2c416f"/>
<rect x="395.17" y="461.04" width="4.9" height="4.9" fill="#2c416f"/>
<rect x="395.17" y="469.59" width="4.9" height="4.9" fill="#2c416f"/>
<rect x="395.17" y="489.3" width="4.9" height="4.9" fill="#2c416f"/>
<rect x="395.17" y="494.16" width="4.9" height="4.9" fill="#2c416f"/>
<rect x="403.04" y="492.97" width="4.9" height="4.9" fill="#2c416f"/>
<rect x="410.91" y="459.73" width="4.9" height="4.9" fill="#2c416f"/>
<circle cx="421.23" cy="435.9" r="2.4" fill="#a3112f"/>
<circle cx="421.23" cy="453.64" r="2.4" fill="#a3112f"/>
<circle cx="421.23" cy="465.47" r="2.4" fill="#a3112f"/>
<circle cx="421.23" cy="468.75" r="2.4" fill="#a3112f"/>
<circle cx="421.23" cy="470.72" r="2.4" fill="#a3112f"/>
<circle cx="421.23" cy="479.92" r="2.4" fill="#a3112f"/>
<circle cx="429.1" cy="409.62" r="2.4" fill="#a3112f"/>
<circle cx="429.1" cy="439.19" r="2.4" fill="#a3112f"/>
<circle cx="429.1" cy="440.5" r="2.4" fill="#a3112f"/>
<circle cx="429.1" cy="458.24" r="2.4" fill="#a3112f"/>
<circle cx="429.1" cy="459.55" r="2.4" fill="#a3112f"/>
<circle cx="429.1" cy="460.87" r="2.4" fill="#a3112f"/>
<circle cx="429.1" cy="479.26" r="2.4" fill="#a3112f"/>
<circle cx="429.1" cy="481.23" r="2.4" fill="#a3112f"/>
<circle cx="429.1" cy="483.2" r="2.4" fill="#a3112f"/>
<circle cx="429.1" cy="485.18" r="2.4" fill="#a3112f"/>
<circle cx="429.1" cy="487.15" r="2.4" fill="#a3112f"/>
<circle cx="429.1" cy="488.99" r="2.4" fill="#a3112f"/>
<line x1="303.18" y1="494.64" x2="429.1" y2="467.44" stroke="#8a1431" stroke-width="1.6" stroke-dasharray="3.4,2.0"/>
<line x1="303.18" y1="486.23" x2="413.36" y2="474.27" stroke="#26395f" stroke-width="1.6" />
<line x1="298.25" y1="378" x2="312.75" y2="378" stroke="#26395f" stroke-width="1.6" />
<line x1="298.25" y1="390" x2="312.75" y2="390" stroke="#8a1431" stroke-width="1.6" stroke-dasharray="3.4,2.0"/>
</g>
<g fill="#1c1c1c" style="filter:grayscale(1)">
<text x="43.3" y="110.3" font-size="8.3" text-anchor="end" font-weight="normal" >0</text>
<text x="43.3" y="90.93" font-size="8.3" text-anchor="end" font-weight="normal" >10</text>
<text x="43.3" y="71.55" font-size="8.3" text-anchor="end" font-weight="normal" >20</text>
<text x="43.3" y="52.18" font-size="8.3" text-anchor="end" font-weight="normal" >30</text>
<text x="43.3" y="32.8" font-size="8.3" text-anchor="end" font-weight="normal" >40</text>
<text x="67.75" y="121.4" font-size="8.3" text-anchor="middle" font-weight="normal" >Young</text>
<text x="94" y="121.4" font-size="8.3" text-anchor="middle" font-weight="normal" >Old</text>
<text x="120.75" y="121.4" font-size="8.3" text-anchor="middle" font-weight="normal" >Young</text>
<text x="147.6" y="121.4" font-size="8.3" text-anchor="middle" font-weight="normal" >Old</text>
<text x="78.3" y="138" font-size="8.3" text-anchor="middle" font-weight="normal" >ND</text>
<text x="132" y="138" font-size="8.3" text-anchor="middle" font-weight="normal" >AD</text>
<text transform="translate(24.7,68) rotate(-90) scale(0.82,1)" x="0" y="0" font-size="8.8" text-anchor="middle" dominant-baseline="central" stroke="#1c1c1c" stroke-width="0.28">Tmax (min)</text>
<text x="218.3" y="110.3" font-size="8.3" text-anchor="end" font-weight="normal" >0</text>
<text x="218.3" y="90.93" font-size="8.3" text-anchor="end" font-weight="normal" >10</text>
<text x="218.3" y="71.55" font-size="8.3" text-anchor="end" font-weight="normal" >20</text>
<text x="218.3" y="52.18" font-size="8.3" text-anchor="end" font-weight="normal" >30</text>
<text x="218.3" y="32.8" font-size="8.3" text-anchor="end" font-weight="normal" >40</text>
<text x="242.75" y="121.4" font-size="8.3" text-anchor="middle" font-weight="normal" >Young</text>
<text x="269" y="121.4" font-size="8.3" text-anchor="middle" font-weight="normal" >Old</text>
<text x="295.75" y="121.4" font-size="8.3" text-anchor="middle" font-weight="normal" >Young</text>
<text x="322.6" y="121.4" font-size="8.3" text-anchor="middle" font-weight="normal" >Old</text>
<text x="253.3" y="138" font-size="8.3" text-anchor="middle" font-weight="normal" >ND</text>
<text x="307" y="138" font-size="8.3" text-anchor="middle" font-weight="normal" >AD</text>
<text transform="translate(199.4,68) rotate(-90) scale(0.82,1)" x="0" y="0" font-size="8.8" text-anchor="middle" dominant-baseline="central" stroke="#1c1c1c" stroke-width="0.28">R2 (min)</text>
<text x="398.5" y="110.4" font-size="8.3" text-anchor="end" font-weight="normal" >0</text>
<text x="398.5" y="95.86" font-size="8.3" text-anchor="end" font-weight="normal" >20</text>
<text x="398.5" y="81.32" font-size="8.3" text-anchor="end" font-weight="normal" >40</text>
<text x="398.5" y="66.78" font-size="8.3" text-anchor="end" font-weight="normal" >60</text>
<text x="398.5" y="52.24" font-size="8.3" text-anchor="end" font-weight="normal" >80</text>
<text x="398.5" y="37.7" font-size="8.3" text-anchor="end" font-weight="normal" >100</text>
<text x="420.85" y="121.4" font-size="8.3" text-anchor="middle" font-weight="normal" >Young</text>
<text x="445.6" y="121.4" font-size="8.3" text-anchor="middle" font-weight="normal" >Old</text>
<text x="470.45" y="121.4" font-size="8.3" text-anchor="middle" font-weight="normal" >Young</text>
<text x="495.4" y="121.4" font-size="8.3" text-anchor="middle" font-weight="normal" >Old</text>
<text x="431" y="138" font-size="8.3" text-anchor="middle" font-weight="normal" >ND</text>
<text x="481" y="138" font-size="8.3" text-anchor="middle" font-weight="normal" >AD</text>
<text transform="translate(375.4,70.7) rotate(-90) scale(0.7789999999999999,1)" x="0" y="0" font-size="8.8" text-anchor="middle" dominant-baseline="central" stroke="#1c1c1c" stroke-width="0.28">AlphaV (degrees)</text>
<text x="43.5" y="309.2" font-size="8.3" text-anchor="end" font-weight="normal" >0</text>
<text x="43.5" y="296.9" font-size="8.3" text-anchor="end" font-weight="normal" >5</text>
<text x="43.5" y="284.6" font-size="8.3" text-anchor="end" font-weight="normal" >10</text>
<text x="43.5" y="272.3" font-size="8.3" text-anchor="end" font-weight="normal" >15</text>
<text x="43.5" y="260" font-size="8.3" text-anchor="end" font-weight="normal" >20</text>
<text x="43.5" y="247.7" font-size="8.3" text-anchor="end" font-weight="normal" >25</text>
<text x="43.5" y="235.4" font-size="8.3" text-anchor="end" font-weight="normal" >30</text>
<text x="43.5" y="223.1" font-size="8.3" text-anchor="end" font-weight="normal" >35</text>
<text x="43.5" y="210.8" font-size="8.3" text-anchor="end" font-weight="normal" >40</text>
<text x="74.2" y="320" font-size="8.3" text-anchor="middle" font-weight="normal" >15</text>
<text x="114.7" y="320" font-size="8.3" text-anchor="middle" font-weight="normal" >20</text>
<text x="155.2" y="320" font-size="8.3" text-anchor="middle" font-weight="normal" >25</text>
<text x="195.7" y="320" font-size="8.3" text-anchor="middle" font-weight="normal" >30</text>
<text transform="translate(123.9,333) scale(0.78,1)" font-size="8.8" text-anchor="middle" stroke="#1c1c1c" stroke-width="0.3">MMSE</text>
<text transform="translate(24.4,256) rotate(-90) scale(0.82,1)" x="0" y="0" font-size="8.8" text-anchor="middle" dominant-baseline="central" stroke="#1c1c1c" stroke-width="0.28">Tmax (min)</text>
<text transform="translate(85,185.75) scale(0.97,1)" font-size="8.25">AD (P=0.06; r=0.30)</text>
<text transform="translate(85,195.5) scale(0.97,1)" font-size="8.25">ND + AD (P&lt;0.01; r=0.44)</text>
<text x="265.7" y="308.6" font-size="8.3" text-anchor="end" font-weight="normal" >0</text>
<text x="265.7" y="291.75" font-size="8.3" text-anchor="end" font-weight="normal" >5</text>
<text x="265.7" y="274.9" font-size="8.3" text-anchor="end" font-weight="normal" >10</text>
<text x="265.7" y="258.05" font-size="8.3" text-anchor="end" font-weight="normal" >15</text>
<text x="265.7" y="241.2" font-size="8.3" text-anchor="end" font-weight="normal" >20</text>
<text x="265.7" y="224.35" font-size="8.3" text-anchor="end" font-weight="normal" >25</text>
<text x="265.7" y="207.5" font-size="8.3" text-anchor="end" font-weight="normal" >30</text>
<text x="297.3" y="320" font-size="8.3" text-anchor="middle" font-weight="normal" >15</text>
<text x="339.55" y="320" font-size="8.3" text-anchor="middle" font-weight="normal" >20</text>
<text x="381.8" y="320" font-size="8.3" text-anchor="middle" font-weight="normal" >25</text>
<text x="424.05" y="320" font-size="8.3" text-anchor="middle" font-weight="normal" >30</text>
<text transform="translate(348.9,333.4) scale(0.78,1)" font-size="8.8" text-anchor="middle" stroke="#1c1c1c" stroke-width="0.3">MMSE</text>
<text transform="translate(247.2,254) rotate(-90) scale(0.82,1)" x="0" y="0" font-size="8.8" text-anchor="middle" dominant-baseline="central" stroke="#1c1c1c" stroke-width="0.28">R2 (min)</text>
<text transform="translate(310.75,184.9) scale(0.97,1)" font-size="8.25">AD (P&lt;0.05; r=0.33)</text>
<text transform="translate(310.75,195.4) scale(0.97,1)" font-size="8.25">ND + AD (P&lt;0.01; r=0.62)</text>
<text x="47.4" y="504.6" font-size="8.3" text-anchor="end" font-weight="normal" >0</text>
<text x="47.4" y="484.96" font-size="8.3" text-anchor="end" font-weight="normal" >20</text>
<text x="47.4" y="465.32" font-size="8.3" text-anchor="end" font-weight="normal" >40</text>
<text x="47.4" y="445.68" font-size="8.3" text-anchor="end" font-weight="normal" >60</text>
<text x="47.4" y="426.04" font-size="8.3" text-anchor="end" font-weight="normal" >80</text>
<text x="47.4" y="406.4" font-size="8.3" text-anchor="end" font-weight="normal" >100</text>
<text x="77.7" y="515.7" font-size="8.3" text-anchor="middle" font-weight="normal" >15</text>
<text x="118.45" y="515.7" font-size="8.3" text-anchor="middle" font-weight="normal" >20</text>
<text x="159.2" y="515.7" font-size="8.3" text-anchor="middle" font-weight="normal" >25</text>
<text x="199.95" y="515.7" font-size="8.3" text-anchor="middle" font-weight="normal" >30</text>
<text transform="translate(128.2,529.1) scale(0.78,1)" font-size="8.8" text-anchor="middle" stroke="#1c1c1c" stroke-width="0.3">MMSE</text>
<text transform="translate(23.7,452.2) rotate(-90) scale(0.7789999999999999,1)" x="0" y="0" font-size="8.8" text-anchor="middle" dominant-baseline="central" stroke="#1c1c1c" stroke-width="0.28">AlphaV (degrees)</text>
<text transform="translate(89,381.4) scale(0.97,1)" font-size="8.25">AD (P&lt;0.05; r=0.33)</text>
<text transform="translate(89,391.1) scale(0.97,1)" font-size="8.25">ND + AD (P&lt;0.01; r=0.55)</text>
<text x="265.2" y="504.5" font-size="8.3" text-anchor="end" font-weight="normal" >0</text>
<text x="265.2" y="478.22" font-size="8.3" text-anchor="end" font-weight="normal" >200</text>
<text x="265.2" y="451.94" font-size="8.3" text-anchor="end" font-weight="normal" >400</text>
<text x="265.2" y="425.66" font-size="8.3" text-anchor="end" font-weight="normal" >600</text>
<text x="265.2" y="399.38" font-size="8.3" text-anchor="end" font-weight="normal" >800</text>
<text x="271.7" y="515.7" font-size="8.3" text-anchor="middle" font-weight="normal" >10</text>
<text x="311.05" y="515.7" font-size="8.3" text-anchor="middle" font-weight="normal" >15</text>
<text x="350.4" y="515.7" font-size="8.3" text-anchor="middle" font-weight="normal" >20</text>
<text x="389.75" y="515.7" font-size="8.3" text-anchor="middle" font-weight="normal" >25</text>
<text x="429.1" y="515.7" font-size="8.3" text-anchor="middle" font-weight="normal" >30</text>
<text transform="translate(351.7,529.2) scale(0.78,1)" font-size="8.8" text-anchor="middle" stroke="#1c1c1c" stroke-width="0.3">MMSE</text>
<text transform="translate(242.2,448.5) rotate(-90) scale(0.82,1)" x="0" y="0" font-size="8.8" text-anchor="middle" dominant-baseline="central" stroke="#1c1c1c" stroke-width="0.28">Vmax (mU/min)</text>
<text transform="translate(315.75,380.5) scale(0.945,1)" font-size="8.25">AD (P&lt;0.01; r=0.43)</text>
<text transform="translate(315.75,392.5) scale(0.945,1)" font-size="8.25">ND + AD (P&lt;0.01; r=0.54)</text>
<text x="6.3" y="17.3" font-size="12" text-anchor="start" font-weight="bold" fill="#000" stroke="#000" stroke-width="0.6" stroke-linejoin="round">A</text>
<text x="181.4" y="17.3" font-size="12" text-anchor="start" font-weight="bold" fill="#000" stroke="#000" stroke-width="0.6" stroke-linejoin="round">B</text>
<text x="356.7" y="17.3" font-size="12" text-anchor="start" font-weight="bold" fill="#000" stroke="#000" stroke-width="0.6" stroke-linejoin="round">C</text>
<text x="6.7" y="168.2" font-size="12" text-anchor="start" font-weight="bold" fill="#000" stroke="#000" stroke-width="0.6" stroke-linejoin="round">D</text>
<text x="228.3" y="167" font-size="12" text-anchor="start" font-weight="bold" fill="#000" stroke="#000" stroke-width="0.6" stroke-linejoin="round">E</text>
<text x="6.9" y="363.5" font-size="12" text-anchor="start" font-weight="bold" fill="#000" stroke="#000" stroke-width="0.6" stroke-linejoin="round">F</text>
<text x="228.3" y="364" font-size="12" text-anchor="start" font-weight="bold" fill="#000" stroke="#000" stroke-width="0.6" stroke-linejoin="round">G</text>
</g>
<rect x="0.5" y="0.5" width="518.5" height="535.5" fill="none" stroke="#000" stroke-width="1"/>
<line x1="519.3" y1="0" x2="519.3" y2="537" stroke="#000" stroke-width="1.4"/>
<line x1="0" y1="536.3" x2="520" y2="536.3" stroke="#000" stroke-width="1.4"/>
<line x1="1.5" y1="0" x2="1.5" y2="537" stroke="#000" stroke-width="1" stroke-opacity="0.35"/>
</svg>
</body></html>
